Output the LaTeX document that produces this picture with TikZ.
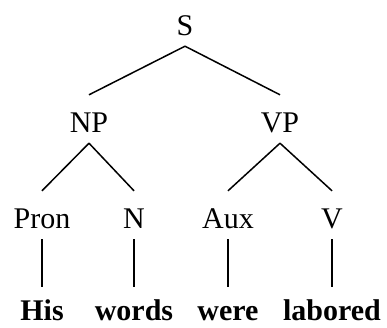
\documentclass[tikz,border=0pt]{standalone}
\usepackage{fontspec}
\setmainfont{Liberation Serif}
\begin{document}
\begin{tikzpicture}[x=1pt,y=-1pt,
  lab/.style={anchor=base, font=\fontsize{30}{36}\selectfont, text height=31pt, text depth=5pt, inner xsep=2pt, inner ysep=6pt},
  word/.style={anchor=base, font=\fontsize{30}{36}\selectfont\bfseries, text height=33pt, text depth=0pt, inner xsep=2pt, inner ysep=0pt},
  edge/.style={line width=1.5pt}]
\useasboundingbox (0,0) rectangle (387,327);
\node[lab] (S) at (185,35) {S};
\node[lab] (NP) at (89,132) {NP};
\node[lab] (VP) at (280,132) {VP};
\node[lab] (Pron) at (42,228) {Pron};
\node[lab] (N) at (134,228) {N};
\node[lab] (Aux) at (228,228) {Aux};
\node[lab] (V) at (332,228) {V};
\node[word] (His) at (42,320) {His};
\node[word] (words) at (134,320) {words};
\node[word] (were) at (228,320) {were};
\node[word] (labored) at (332,320) {labored};
\draw[edge] (S.south) -- (NP.north);
\draw[edge] (S.south) -- (VP.north);
\draw[edge] (NP.south) -- (Pron.north);
\draw[edge] (NP.south) -- (N.north);
\draw[edge] (VP.south) -- (Aux.north);
\draw[edge] (VP.south) -- (V.north);
\draw[edge] (Pron.south) -- (His.north);
\draw[edge] (N.south) -- (words.north);
\draw[edge] (Aux.south) -- (were.north);
\draw[edge] (V.south) -- (labored.north);
\end{tikzpicture}
\end{document}
